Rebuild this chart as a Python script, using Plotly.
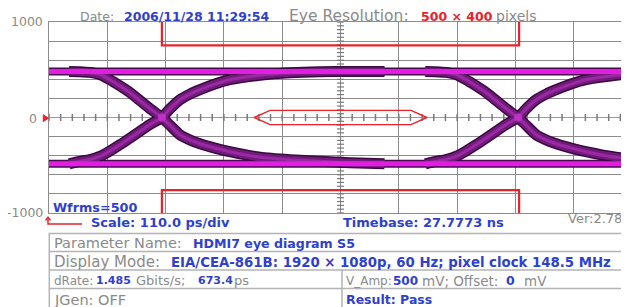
import numpy as np
import plotly.graph_objects as go

# ---------------- data ----------------
crossing_ps = [-337, 335]                     # eye crossing times (ps)
edge_dt_ps = [-175, -155, -136, -117, -98, -79, -60, -42, -23, 0, 15, 34, 53, 72,
              100, 128, 185, 242, 298, 355, 420]   # time relative to crossing
falling_mv = [482, 480, 472, 450, 395, 330, 260, 180, 95, 0, -80, -180, -235, -275,
              -320, -358, -416, -442, -458, -473, -485]
rising_mv = [-485, -460, -440, -407, -350, -285, -215, -146, -75, 0, 90, 186, 245, 291,
             350, 396, 443, 469, 480, 482, 482]
rail_ps = [-550, 545]
rail_high_mv = 482
rail_low_mv = -485

mask_top_x = [-337, -337, 337, 337]
mask_top_y = [1000, 755, 755, 1000]
mask_bot_x = [-337, -337, 337, 337]
mask_bot_y = [-1000, -760, -760, -1000]
mask_hex_x = [-163, -133, 133, 163, 133, -133, -163]
mask_hex_y = [0, 75, 75, 0, -75, -75, 0]

y_tick_labels = ["1000", "0", "-1000"]
date_text = "2006/11/28 11:29:54"
eye_res_text = "500 × 400"
wfrms_text = "Wfrms=500"
scale_text = "Scale: 110.0 ps/div"
timebase_text = "Timebase: 27.7773 ns"
ver_text = "Ver:2.78"
param_name = "HDMI7 eye diagram S5"
display_mode = "EIA/CEA-861B: 1920 × 1080p, 60 Hz; pixel clock 148.5 MHz"
drate_gbps = "1.485"
ui_ps = "673.4"
v_amp = "500"
offset_mv = "0"
jgen = "OFF"
result = "Pass"

# ---------------- layout constants ----------------
OFF = 8                      # page body margin
W, H = 621, 299
ML, MR, MT, MB = 41, 0, 14, 94
PW, PH = W - ML - MR, H - MT - MB
X_RANGE = [-550, 544.3]

GRAY = "#8a8a8a"
BLUE = "#2f3fd0"
RED = "#e8232a"
FONT = "DejaVu Sans"


def px(x):
    """reference-page pixel x -> paper"""
    return (x - OFF - ML) / PW


def py(y):
    """reference-page pixel y -> paper"""
    return (H - MB - (y - OFF)) / PH


fig = go.Figure()

# center-axis minor ticks (decoration)
hx = np.arange(-550, 545, 22)
vy = np.arange(-1000, 1001, 40)
fig.add_trace(go.Scatter(x=hx, y=np.zeros(len(hx)), mode="markers",
                         marker=dict(symbol="line-ns", size=5, line=dict(width=1.5, color="#7a7a7a")),
                         hoverinfo="skip", showlegend=False))
fig.add_trace(go.Scatter(x=np.zeros(len(vy)), y=vy, mode="markers",
                         marker=dict(symbol="line-ew", size=5, line=dict(width=1.2, color="#7a7a7a")),
                         hoverinfo="skip", showlegend=False))

# rails underlay
for lvl in (rail_high_mv, rail_low_mv):
    fig.add_trace(go.Scatter(x=rail_ps, y=[lvl, lvl], mode="lines",
                             line=dict(width=8, color="#4a0a50"), hoverinfo="skip", showlegend=False))

# transitions
layers = [(11, "#3a0a40"), (8, "#731b7d"), (3, "#9a2aa2")]
for w, c in layers:
    for xc in crossing_ps:
        for volts in (falling_mv, rising_mv):
            fig.add_trace(go.Scatter(x=[xc + d for d in edge_dt_ps], y=volts, mode="lines",
                                     line=dict(width=w, color=c, shape="spline", smoothing=0.6),
                                     hoverinfo="skip", showlegend=False))
# crossing highlights
fig.add_trace(go.Scatter(x=crossing_ps, y=[0] * len(crossing_ps), mode="markers",
                         marker=dict(size=8, color="#c835cc", opacity=0.8),
                         hoverinfo="skip", showlegend=False))

# rails
for lvl in (rail_high_mv, rail_low_mv):
    fig.add_trace(go.Scatter(x=rail_ps, y=[lvl, lvl], mode="lines",
                             line=dict(width=5, color="#e21ee2"), hoverinfo="skip", showlegend=False))

# masks
for mx, my, wd in [(mask_top_x, mask_top_y, 2.2), (mask_bot_x, mask_bot_y, 2.2), (mask_hex_x, mask_hex_y, 1.4)]:
    fig.add_trace(go.Scatter(x=mx, y=my, mode="lines", line=dict(color=RED, width=wd),
                             hoverinfo="skip", showlegend=False))

ann = []


def add_text(x, y, text, color=GRAY, size=13.5, bold=False, anchor="left"):
    t = f"<b>{text}</b>" if bold else text
    ann.append(dict(x=px(x), y=py(y), xref="paper", yref="paper", text=t, showarrow=False,
                    xanchor=anchor, yanchor="middle",
                    font=dict(family=FONT, size=size, color=color)))


# y labels
for lab, yy, xr in zip(y_tick_labels, [21.5, 118, 212], [45, 39, 45]):
    add_text(xr, yy, lab, GRAY, 12.5, anchor="right")

# header
add_text(78, 16, "Date:", size=12.5)
add_text(122, 16, date_text, BLUE, 12.5, True)
add_text(287, 16, "Eye Resolution:", size=15.5)
add_text(419, 16, eye_res_text, RED, 12.5, True)
add_text(494, 16, "pixels", size=14)

# under plot
add_text(51, 207.5, wfrms_text, BLUE, 12.8, True)
add_text(89, 222.5, scale_text, BLUE, 13, True)
add_text(341, 222.5, timebase_text, BLUE, 13, True)
add_text(566, 218.5, ver_text, size=13)

# table text
add_text(52, 243, "Parameter Name:", size=14.5)
add_text(191, 243, param_name, BLUE, 12.6, True)
add_text(52, 262, "Display Mode:", size=15)
add_text(169, 262, display_mode, BLUE, 13.3, True)
add_text(52, 280.5, "dRate:", size=12)
add_text(94, 280.5, drate_gbps, BLUE, 11, True)
add_text(134, 280.5, "Gbits/s;", size=13)
add_text(196, 280.5, ui_ps, BLUE, 11, True)
add_text(232, 280.5, "ps", size=13)
add_text(344, 280.5, "V_Amp:", size=12)
add_text(391, 280.5, v_amp, BLUE, 12, True)
add_text(420, 280.5, "mV; Offset:", size=13.5)
add_text(504, 280.5, offset_mv, BLUE, 12.5, True)
add_text(522, 280.5, "mV", size=13.5)
add_text(52, 299.5, "JGen: " + jgen, size=14.5)
add_text(344, 299.5, "Result: " + result, BLUE, 12.5, True)

shapes = []
LC = "#b3b3b3"


def pline(pts, color=LC, width=1.5, fill=None):
    path = "M " + " L ".join(f"{px(a):.5f},{py(b):.5f}" for a, b in pts)
    if fill:
        path += " Z"
    shapes.append(dict(type="path", xref="paper", yref="paper", path=path,
                       line=dict(color=color, width=width),
                       fillcolor=fill if fill else "rgba(0,0,0,0)"))


# table grid
pline([(49.3, 310), (49.3, 233.5), (640, 233.5)])
for yy in (251.5, 270, 288.5):
    pline([(49.3, yy), (640, yy)])
pline([(342, 270), (342, 310)])
# red zero marker and arrow
pline([(43.3, 114.8), (48.5, 118.2), (43.3, 121.6)], color=RED, width=1, fill=RED)
pline([(48, 217.5), (48, 224), (82, 224)], color=RED, width=1.5)
pline([(45.5, 220.5), (48, 217), (50.5, 220.5)], color=RED, width=1.3)

fig.update_layout(
    width=W, height=H, autosize=False,
    margin=dict(l=ML, r=MR, t=MT, b=MB, pad=0),
    paper_bgcolor="white", plot_bgcolor="white",
    annotations=ann, shapes=shapes, showlegend=False,
    xaxis=dict(range=X_RANGE, tick0=0, dtick=110, showgrid=True, gridcolor="#8c8c8c", gridwidth=1.3,
               zeroline=True, zerolinecolor="#8c8c8c", zerolinewidth=1.3,
               showticklabels=False, ticks="", showline=True, linecolor="#8c8c8c", linewidth=1.3,
               mirror=True, fixedrange=True),
    yaxis=dict(range=[-1000, 1000], tick0=0, dtick=200, showgrid=True, gridcolor="#8c8c8c", gridwidth=1.3,
               zeroline=True, zerolinecolor="#9a9a9a", zerolinewidth=1,
               showticklabels=False, ticks="", showline=True, linecolor="#8c8c8c", linewidth=1.3,
               mirror=False, fixedrange=True),
)

fig.write_html("out.html", config={"displayModeBar": False})
